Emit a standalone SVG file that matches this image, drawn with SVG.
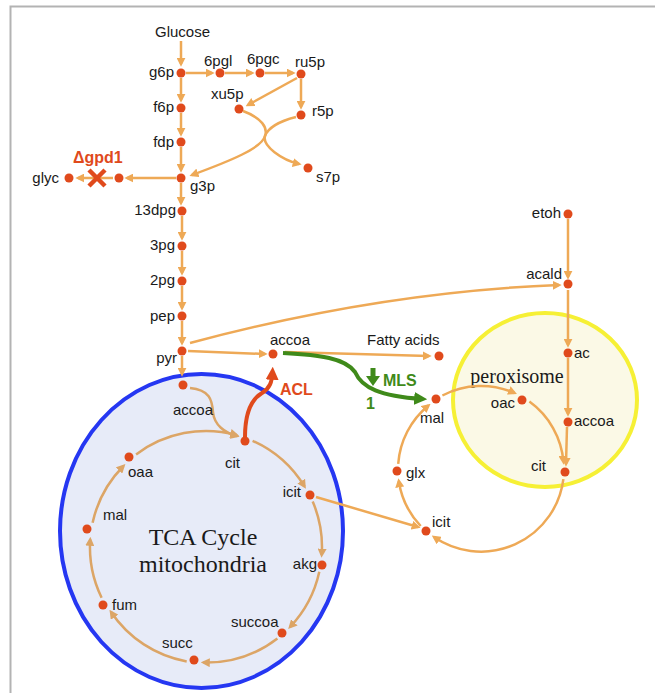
<svg xmlns="http://www.w3.org/2000/svg" width="655" height="693" viewBox="0 0 655 693">
<style>
.l{font-family:"Liberation Sans",Arial,sans-serif;font-size:15px;fill:#1a1a1a}
.e{text-anchor:end}
.s{font-family:"Liberation Serif","Times New Roman",serif;fill:#1a1a1a}
.n{fill:#e04a1c}
.c{fill:none;stroke:#eea956;stroke-width:2.5}
.t{fill:none;stroke:#dca566;stroke-width:2.5}
.b{font-family:"Liberation Sans",Arial,sans-serif;font-weight:bold;font-size:16px}
</style>
<defs>
<marker id="ao" viewBox="0 0 10 10" refX="7" refY="5" markerWidth="9" markerHeight="9" orient="auto" markerUnits="userSpaceOnUse"><path d="M0,0 L10,5 L0,10 z" fill="#eea956"/></marker>
<marker id="at" viewBox="0 0 10 10" refX="7" refY="5" markerWidth="9" markerHeight="9" orient="auto" markerUnits="userSpaceOnUse"><path d="M0,0 L10,5 L0,10 z" fill="#dca566"/></marker>
<marker id="ag" viewBox="0 0 10 10" refX="6" refY="5" markerWidth="13" markerHeight="13" orient="auto" markerUnits="userSpaceOnUse"><path d="M0,0 L10,5 L0,10 z" fill="#3f8a1a"/></marker>
<marker id="ar" viewBox="0 0 10 10" refX="6" refY="5" markerWidth="13" markerHeight="13" orient="auto" markerUnits="userSpaceOnUse"><path d="M0,0 L10,5 L0,10 z" fill="#e04a1c"/></marker>
</defs>
<rect width="655" height="693" fill="#ffffff"/>
<path d="M10.5,693 V6.5 H655" fill="none" stroke="#b3b3b3" stroke-width="2"/>

<g id="compartments">
<ellipse id="mitochondria" cx="201.5" cy="531" rx="141.5" ry="157" fill="#e7ebf8" stroke="#2537f2" stroke-width="4"/>
<ellipse id="peroxisome" cx="545" cy="400" rx="92" ry="87" fill="#fbf9e6" stroke="#f6f035" stroke-width="4"/>
<text class="s" x="203" y="545" font-size="24" text-anchor="middle">TCA Cycle</text>
<text class="s" x="203" y="572" font-size="24" text-anchor="middle">mitochondria</text>
<text class="s" x="517" y="383" font-size="20" text-anchor="middle">peroxisome</text>
</g>

<g id="connectors">
<path class="c" marker-end="url(#ao)" d="M181,41 V64"/>
<path class="c" marker-end="url(#ao)" d="M181,78 V100"/>
<path class="c" marker-end="url(#ao)" d="M181,113 V134"/>
<path class="c" marker-end="url(#ao)" d="M181,147 V170"/>
<path class="c" marker-end="url(#ao)" d="M181,183 V203"/>
<path class="c" marker-end="url(#ao)" d="M182,216 V238"/>
<path class="c" marker-end="url(#ao)" d="M182,251 V273"/>
<path class="c" marker-end="url(#ao)" d="M182,286 V308"/>
<path class="c" marker-end="url(#ao)" d="M182,321 V343"/>
<path class="c" marker-end="url(#ao)" d="M182,356 V374"/>
<path class="c" marker-end="url(#ao)" d="M186,73 H212"/>
<path class="c" marker-end="url(#ao)" d="M225,73 H252"/>
<path class="c" marker-end="url(#ao)" d="M265,73 H293"/>
<path class="c" marker-end="url(#ao)" d="M297,78 L248,105"/>
<path class="c" marker-end="url(#ao)" d="M301,79 V107"/>
<path class="c" marker-end="url(#ao)" d="M243,111 C262,118 268,128 265,136 C262,146 282,160 299,164"/>
<path class="c" marker-end="url(#ao)" d="M296,117 C280,121 268,128 265,136 C262,148 230,161 192,175"/>
<path class="c" marker-end="url(#ao)" d="M176,178 H127"/>
<path class="c" marker-end="url(#ao)" d="M113,178 H78"/>
<path class="c" marker-end="url(#ao)" d="M188,351 L265,354"/>
<path class="c" marker-end="url(#ao)" d="M190,343 Q380,292 559,285"/>
<path class="c" marker-end="url(#ao)" d="M568,219 V277"/>
<path class="c" marker-end="url(#ao)" d="M568,290 V345"/>
<path class="c" marker-end="url(#ao)" d="M568,358 V414"/>
<path class="c" marker-end="url(#ao)" d="M567,427 L566,464"/>
<path class="c" marker-end="url(#ao)" d="M285,352 L429,356"/>
<path class="c" marker-end="url(#ao)" d="M316,497 L418,527"/>
<path class="c" marker-end="url(#ao)" d="M442.4,395.5 A83,83 0 0 1 514.5,393"/>
<path class="c" marker-end="url(#ao)" d="M529.4,401.6 A83,83 0 0 1 563.5,462"/>
<path class="c" marker-end="url(#ao)" d="M563.4,479.1 A83,83 0 0 1 434,537"/>
<path class="c" marker-end="url(#ao)" d="M420.7,526 A83,83 0 0 1 398.8,481"/>
<path class="c" marker-end="url(#ao)" d="M398.2,463.8 A83,83 0 0 1 428.5,405.5"/>
<path class="t" marker-end="url(#at)" d="M190,388 C210,390 212,400 213,412 C214,425 225,433 237,436"/>
<path class="t" marker-end="url(#at)" d="M136.1,454.4 A116,116 0 0 1 236.5,435"/>
<path class="t" marker-end="url(#at)" d="M252.6,440.8 A116,116 0 0 1 304.5,486.5"/>
<path class="t" marker-end="url(#at)" d="M312.7,501.5 A116,116 0 0 1 321.7,555"/>
<path class="t" marker-end="url(#at)" d="M319.3,571.7 A116,116 0 0 1 290,627"/>
<path class="t" marker-end="url(#at)" d="M277.4,638.4 A116,116 0 0 1 203.5,662.5"/>
<path class="t" marker-end="url(#at)" d="M186.7,661.4 A116,116 0 0 1 111,612"/>
<path class="t" marker-end="url(#at)" d="M101.6,597.7 A116,116 0 0 1 90.2,539.5"/>
<path class="t" marker-end="url(#at)" d="M92.6,522.7 A116,116 0 0 1 123.5,466"/>
<path fill="none" stroke="#3f8a1a" stroke-width="4" marker-end="url(#ag)" d="M283,353 C320,355 345,358 355,372 C362,388 380,396 422,399"/>
<path fill="none" stroke="#e04a1c" stroke-width="4" marker-end="url(#ar)" d="M245,437 C245,415 250,400 262,393 C270,388 272,382 272.5,372"/>
</g>

<g id="n-glucose"><text class="l" x="155" y="37">Glucose</text></g>
<g id="n-g6p"><circle class="n" cx="181" cy="73" r="4.5"/><text class="l e" x="174" y="77">g6p</text></g>
<g id="n-6pgl"><circle class="n" cx="220" cy="73" r="4.5"/><text class="l" x="204" y="66">6pgl</text></g>
<g id="n-6pgc"><circle class="n" cx="260" cy="73" r="4.5"/><text class="l" x="247" y="64">6pgc</text></g>
<g id="n-ru5p"><circle class="n" cx="301" cy="74" r="4.5"/><text class="l" x="295" y="67">ru5p</text></g>
<g id="n-xu5p"><circle class="n" cx="239" cy="109" r="4.5"/><text class="l" x="211" y="99">xu5p</text></g>
<g id="n-r5p"><circle class="n" cx="301" cy="115" r="4.5"/><text class="l" x="312" y="116">r5p</text></g>
<g id="n-s7p"><circle class="n" cx="308" cy="168" r="4.5"/><text class="l" x="316" y="182">s7p</text></g>
<g id="n-f6p"><circle class="n" cx="181" cy="108" r="4.5"/><text class="l e" x="174" y="112">f6p</text></g>
<g id="n-fdp"><circle class="n" cx="181" cy="142" r="4.5"/><text class="l e" x="174" y="147">fdp</text></g>
<g id="n-g3p"><circle class="n" cx="181" cy="178" r="4.5"/><text class="l" x="190" y="191">g3p</text></g>
<g id="n-glyc3p"><circle class="n" cx="119" cy="178" r="4.5"/></g>
<g id="n-glyc"><circle class="n" cx="69" cy="178" r="4.5"/><text class="l e" x="59" y="183">glyc</text></g>
<g id="knockout">
<path d="M89,170 L105,186 M105,170 L89,186" stroke="#e04a1c" stroke-width="4.5" stroke-linecap="butt"/>
<text class="b" x="73" y="163" fill="#e04a1c">Δgpd1</text>
</g>
<g id="n-13dpg"><circle class="n" cx="182" cy="211" r="4.5"/><text class="l e" x="176" y="215">13dpg</text></g>
<g id="n-3pg"><circle class="n" cx="182" cy="246" r="4.5"/><text class="l e" x="175" y="250">3pg</text></g>
<g id="n-2pg"><circle class="n" cx="182" cy="281" r="4.5"/><text class="l e" x="175" y="285">2pg</text></g>
<g id="n-pep"><circle class="n" cx="182" cy="316" r="4.5"/><text class="l e" x="175" y="321">pep</text></g>
<g id="n-pyr"><circle class="n" cx="182" cy="351" r="4.5"/><text class="l e" x="177" y="363">pyr</text></g>
<g id="n-accoa-cyt"><circle class="n" cx="273" cy="354" r="4.5"/><text class="l" x="270" y="345">accoa</text></g>
<g id="n-fatty"><circle class="n" cx="439" cy="356" r="4.5"/><text class="l" x="367" y="345">Fatty acids</text></g>
<g id="n-etoh"><circle class="n" cx="568" cy="214" r="4.5"/><text class="l e" x="561" y="218">etoh</text></g>
<g id="n-acald"><circle class="n" cx="568" cy="284" r="4.5"/><text class="l e" x="562" y="279">acald</text></g>
<g id="n-ac"><circle class="n" cx="568" cy="353" r="4.5"/><text class="l" x="574" y="358">ac</text></g>
<g id="n-accoa-px"><circle class="n" cx="568" cy="422" r="4.5"/><text class="l" x="574" y="426">accoa</text></g>
<g id="n-cit-px"><circle class="n" cx="565" cy="472" r="4.5"/><text class="l e" x="546" y="471">cit</text></g>
<g id="n-oac"><circle class="n" cx="522" cy="400" r="4.5"/><text class="l e" x="515" y="408">oac</text></g>
<g id="n-mal-px"><circle class="n" cx="436" cy="399" r="4.5"/><text class="l" x="420" y="423">mal</text></g>
<g id="n-glx"><circle class="n" cx="397" cy="471" r="4.5"/><text class="l" x="406" y="478">glx</text></g>
<g id="n-icit-px"><circle class="n" cx="426" cy="531" r="4.5"/><text class="l" x="432" y="527">icit</text></g>

<g id="n-accoa-mito"><circle class="n" cx="183" cy="385" r="4.5"/><text class="l" x="173" y="415">accoa</text></g>
<g id="n-cit"><circle class="n" cx="245" cy="441" r="4.5"/><text class="l" x="225" y="468">cit</text></g>
<g id="n-icit"><circle class="n" cx="310" cy="495" r="4.5"/><text class="l e" x="301" y="497">icit</text></g>
<g id="n-akg"><circle class="n" cx="322" cy="565" r="4.5"/><text class="l e" x="317" y="569">akg</text></g>
<g id="n-succoa"><circle class="n" cx="282" cy="633" r="4.5"/><text class="l" x="231" y="627">succoa</text></g>
<g id="n-succ"><circle class="n" cx="194" cy="660" r="4.5"/><text class="l" x="162" y="648">succ</text></g>
<g id="n-fum"><circle class="n" cx="103" cy="605" r="4.5"/><text class="l" x="112" y="610">fum</text></g>
<g id="n-mal"><circle class="n" cx="87" cy="529" r="4.5"/><text class="l" x="103" y="520">mal</text></g>
<g id="n-oaa"><circle class="n" cx="129" cy="457" r="4.5"/><text class="l" x="128" y="477">oaa</text></g>

<g id="labels">
<text class="b" x="280" y="395" fill="#e04a1c">ACL</text>
<g id="mls-arrow" fill="#3f8a1a"><rect x="370.5" y="368" width="5" height="9"/><polygon points="366,376 380,376 373,386"/></g>
<text class="b" x="383" y="386" fill="#3f8a1a">MLS</text>
<text class="b" x="366" y="409" fill="#3f8a1a">1</text>
</g>
</svg>
